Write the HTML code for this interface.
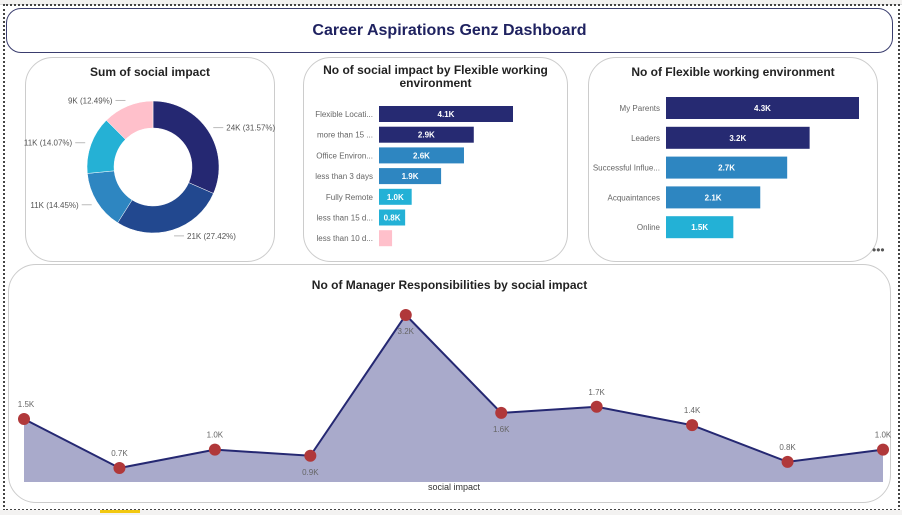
<!DOCTYPE html>
<html><head><meta charset="utf-8"><style>
body{margin:0;width:902px;height:515px;background:#fff;font-family:"Liberation Sans",sans-serif;position:relative;overflow:hidden}
.card{position:absolute;border:1.5px solid #ccc;border-radius:28px;background:#fff;box-sizing:border-box}
.t{position:absolute;font-weight:bold;font-size:12px;color:#222;text-align:center;width:100%}
svg text{font-family:"Liberation Sans",sans-serif}
</style></head><body>
<div style="position:absolute;left:0;top:0;width:902px;height:4px;background:#f3f2f1;border-bottom:1px solid #ddd"></div>
<div style="position:absolute;left:3px;top:4px;width:893px;height:503px;border:2px dotted #444"></div>
<div style="position:absolute;left:0;top:510px;width:902px;height:5px;background:#f3f2f1"><div style="position:absolute;left:100px;top:0;width:40px;height:3px;background:#f2c811"></div></div>
<div style="position:absolute;left:6px;top:8px;width:887px;height:45px;border:1.5px solid #3a3d6e;border-radius:15px;box-sizing:border-box;display:flex;align-items:center;justify-content:center;font-weight:bold;font-size:16px;color:#1f2260">Career Aspirations Genz Dashboard</div>

<div class="card" style="left:25px;top:57px;width:250px;height:205px">
<div class="t" style="top:7px">Sum of social impact</div></div>
<div class="card" style="left:303px;top:57px;width:265px;height:205px">
<div class="t" style="top:6px;line-height:13px">No of social impact by Flexible working<br>environment</div></div>
<div class="card" style="left:588px;top:57px;width:290px;height:205px">
<div class="t" style="top:7px">No of Flexible working environment</div></div>
<div style="position:absolute;left:872px;top:243px;font-size:12px;color:#555">•••</div>
<div class="card" style="left:8px;top:264px;width:883px;height:239px">
<div class="t" style="top:13px">No of Manager Responsibilities by social impact</div></div>

<svg id="s" width="902" height="515" style="position:absolute;left:0;top:0"></svg>
<script>
const NS="http://www.w3.org/2000/svg";const s=document.getElementById('s');
function mk(t,a,txt){const e=document.createElementNS(NS,t);for(const k in a)e.setAttribute(k,a[k]);if(txt!==undefined)e.textContent=txt;s.appendChild(e);return e;}

// Donut
const donutLabels=["24K (31.57%)","21K (27.42%)","11K (14.45%)","11K (14.07%)","9K (12.49%)"];
const donutValues=[31.57,27.42,14.45,14.07,12.49];
const donutColors=["#252872","#22488f","#2e86c1","#25b1d5","#ffc0cb"];
const cx=153,cy=167,R=66,r=39;
let tot=donutValues.reduce((a,b)=>a+b,0),ang=-Math.PI/2;
donutValues.forEach((v,i)=>{
 const a2=ang+v/tot*2*Math.PI;
 const p=(a,rr)=>[cx+rr*Math.cos(a),cy+rr*Math.sin(a)];
 const [x1,y1]=p(ang,R),[x2,y2]=p(a2,R),[x3,y3]=p(a2,r),[x4,y4]=p(ang,r);
 const lg=(a2-ang)>Math.PI?1:0;
 const e=mk('path',{d:`M${x1},${y1}A${R},${R} 0 ${lg} 1 ${x2},${y2}L${x3},${y3}A${r},${r} 0 ${lg} 0 ${x4},${y4}Z`,fill:donutColors[i],stroke:'#fff','stroke-width':0.5});
 
 
 const m=(ang+a2)/2,[lx,ly]=p(m,R+6),right=Math.cos(m)>0;
 const ex=right?lx+10:lx-10;
 mk('polyline',{points:`${lx},${ly} ${ex},${ly}`,stroke:'#bbb',fill:'none'});
 const tx=mk('text',{x:right?ex+3:ex-3,y:ly+3,'font-size':8,fill:'#555','text-anchor':right?'start':'end'},donutLabels[i]);
 
 
 ang=a2;
});

// Bar chart 1
const b1Cats=["Flexible Locati...","more than 15 ...","Office Environ...","less than 3 days","Fully Remote","less than 15 d...","less than 10 d..."];
const b1Vals=[4.1,2.9,2.6,1.9,1.0,0.8,0.4];
const b1Labels=["4.1K","2.9K","2.6K","1.9K","1.0K","0.8K",""];
const b1Colors=["#262a72","#262a72","#2e86c1","#2e86c1","#23b1d6","#23b1d6","#ffc0cb"];
const b1x=v=>379+v*(134/4.1);
b1Cats.forEach((c,i)=>{
 const y=114+i*20.7;
 const e=mk('rect',{x:379,y:y-8,width:b1x(b1Vals[i])-379,height:16,fill:b1Colors[i]});
 
 
 mk('text',{x:373,y:y+3,'font-size':8,fill:'#666','text-anchor':'end'},c);
 mk('text',{x:(379+b1x(b1Vals[i]))/2,y:y+3,'font-size':8,'font-weight':'bold',fill:'#fff','text-anchor':'middle'},b1Labels[i]);
});

// Bar chart 2
const b2Cats=["My Parents","Leaders","Successful Influe...","Acquaintances","Online"];
const b2Vals=[4.3,3.2,2.7,2.1,1.5];
const b2Labels=["4.3K","3.2K","2.7K","2.1K","1.5K"];
const b2Colors=["#262a72","#262a72","#2e86c1","#2e86c1","#23b1d6"];
const b2x=v=>666+v*(193/4.3);
b2Cats.forEach((c,i)=>{
 const y=108+i*29.8;
 const e=mk('rect',{x:666,y:y-11,width:b2x(b2Vals[i])-666,height:22,fill:b2Colors[i]});
 
 
 mk('text',{x:660,y:y+3,'font-size':8,fill:'#666','text-anchor':'end'},c);
 mk('text',{x:(666+b2x(b2Vals[i]))/2,y:y+3,'font-size':8,'font-weight':'bold',fill:'#fff','text-anchor':'middle'},b2Labels[i]);
});

// Area chart
const aVals=[1.5,0.7,1.0,0.9,3.2,1.6,1.7,1.4,0.8,1.0];
const aLabels=["1.5K","0.7K","1.0K","0.9K","3.2K","1.6K","1.7K","1.4K","0.8K","1.0K"];
const aBelow=[false,false,false,true,true,true,false,false,false,false];
const ax=i=>24+i*(859/(aVals.length-1));
const ay=v=>468-(v-0.7)*61.2;
const base=482;
let pts=aVals.map((v,i)=>`${ax(i)},${ay(v)}`).join(' ');
const ar=mk('polygon',{points:`${ax(0)},${base} ${pts} ${ax(aVals.length-1)},${base}`,fill:'#a9aacb'});


mk('polyline',{points:pts,fill:'none',stroke:'#252872','stroke-width':2});
aVals.forEach((v,i)=>{
 const c=mk('circle',{cx:ax(i),cy:ay(v),r:6,fill:'#b0383a'});
 
 
 mk('text',{x:ax(i)+(i==0?2:0),y:aBelow[i]?ay(v)+19:ay(v)-12,'font-size':8,fill:'#666','text-anchor':'middle'},aLabels[i]);
});
const xt=mk('text',{x:454,y:490,'font-size':9,fill:'#333','text-anchor':'middle'},'social impact');


</script>
</body></html>
